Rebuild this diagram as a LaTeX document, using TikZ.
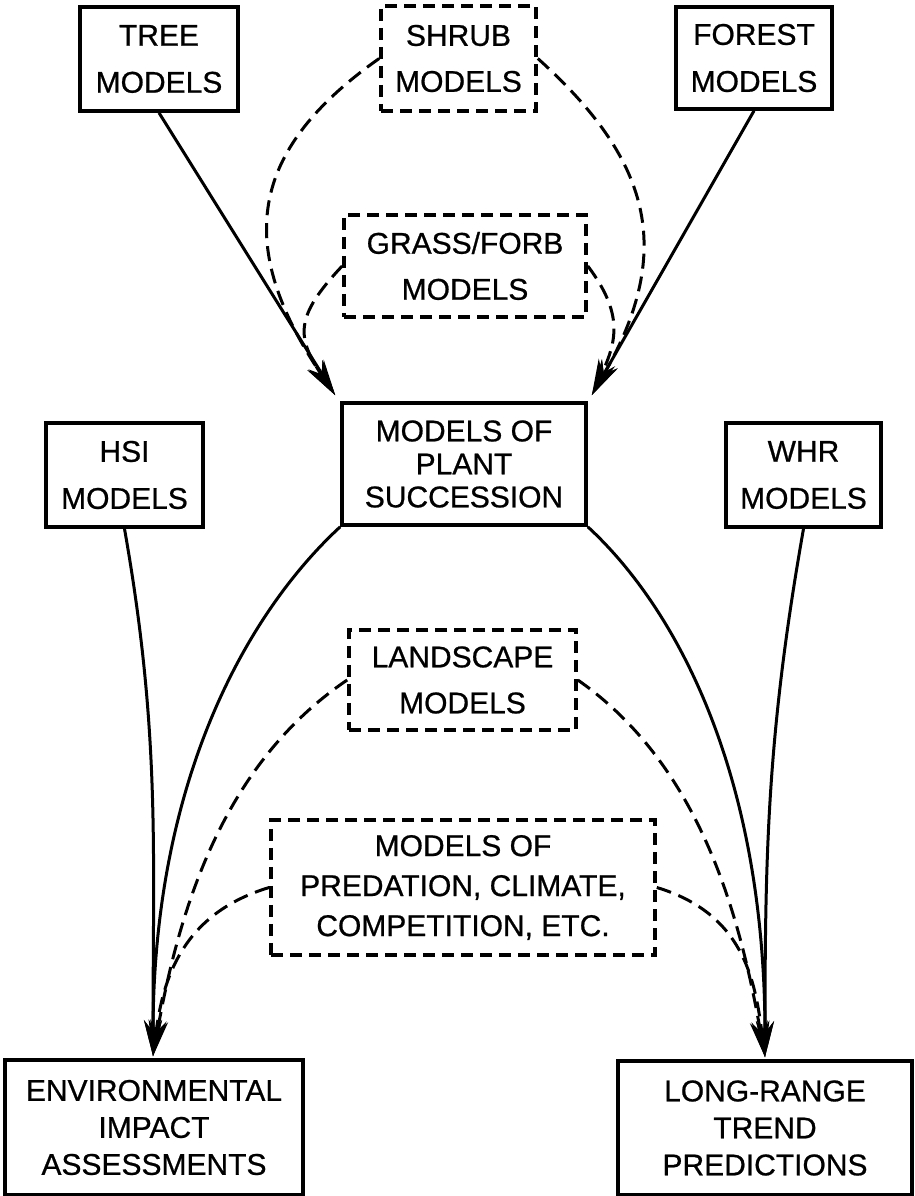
\documentclass[tikz,border=0pt]{standalone}
\usepackage{fontspec}
\setmainfont{Liberation Sans}[FakeBold=0.7]
\usepackage{tikz}
\usetikzlibrary{arrows.meta,calc}
\tikzset{
	succession/.style={
		x=0.5pt, y=0.5pt,
		ar/.style={line width=1.5pt, -{Stealth[length=18pt,width=9pt]}},
		dar/.style={ar, dash pattern=on 7.5pt off 4pt}
		},
	bx/.style={draw, line width=1.8pt, align=center, inner sep=0pt,
		font=\fontsize{15}{#1}\selectfont},
	bx/.default=23.5pt,
	dbx/.style={bx=#1, dash pattern=on 6pt off 3.5pt},
	dbx/.default=23pt,
	bx size/.style args={#1 by #2}{minimum width=#1, minimum height=#2}
}

\begin{document}
\begin{tikzpicture}[succession]
	\useasboundingbox (0,0) rectangle (915,1196);
	% top row
	\node[bx, bx size=79pt by 52pt] (Tree) at (159,1137) {TREE\\MODELS};
	\node[dbx, bx size=77.5pt by 52.5pt] (Shrub) at (458.5,1137.5) {SHRUB\\MODELS};
	\node[bx, bx size=78pt by 51pt] (Forest) at (754,1138) {FOREST\\MODELS};
	\node[dbx, bx size=121pt by 51pt] (Grass) at (465,930) {GRASS/FORB\\MODELS};
	% middle row
	\node[bx=16.5pt, bx size=122pt by 61pt] (Plant) at (464,732) {MODELS OF\\PLANT\\SUCCESSION};
	\node[bx, bx size=78.5pt by 52pt] (HSI) at (124.5,721) {HSI\\MODELS};
	\node[bx, bx size=77.5pt by 52pt] (WHR) at (803.5,721) {WHR\\MODELS};
	\node[dbx, bx size=113.5pt by 50pt] (Land) at (462.5,516) {LANDSCAPE\\MODELS};
	\node[dbx=20pt, bx size=192pt by 67.5pt] (Pred) at (463,308.5) {MODELS OF\\PREDATION, CLIMATE,\\COMPETITION, ETC.};
	% bottom row
	\node[bx=18.5pt, bx size=149pt by 67.5pt] (Env) at (154,68.5) {ENVIRONMENTAL\\IMPACT\\ASSESSMENTS};
	\node[bx=18.5pt, bx size=147pt by 67pt] (Trend) at (765,68) {LONG-RANGE\\TREND\\PREDICTIONS};
	\coordinate (tipL) at ($(Plant.north west)+(-5,6)$);
	\coordinate (tipR) at ($(Plant.north east)+(4,6)$);
	\coordinate (botL) at ($(Env.north)+(-1,2)$);
	\coordinate (botR) at ($(Trend.north)+(0,2)$);
	% into plant succession
	\draw[ar] (Tree.south) -- (tipL);
	\draw[ar] (Forest.south) -- (tipR);
	\draw[dar] (Shrub.west) .. controls +(-139,-98) and +(-95,141) .. (tipL);
	\draw[dar] (Shrub.east) .. controls +(111,-100) and +(85,147) .. (tipR);
	\draw[dar] (Grass.west) .. controls +(-48,-51) and +(-39,58) .. (tipL);
	\draw[dar] (Grass.east) .. controls +(36,-48) and +(25,54) .. (tipR);
	% out to the two uses
	\draw[ar] (HSI.south) to[out=-80,in=90] (botL);
	\draw[ar] (WHR.south) to[out=-100,in=90] (botR);
	\draw[ar] (Plant.south west) .. controls +(-92,-85) and +(0,278) .. (botL);
	\draw[ar] (Plant.south east) .. controls +(92,-85) and +(0,278) .. (botR);
	\draw[dar] (Land.west) .. controls +(-124,-84) and +(26,148) .. (botL);
	\draw[dar] (Land.east) .. controls +(120,-84) and +(-26,148) .. (botR);
	\draw[dar] (Pred.west) .. controls +(-86,-26) and +(10,79) .. (botL);
	\draw[dar] (Pred.east) .. controls +(86,-26) and +(-10,79) .. (botR);
\end{tikzpicture}
\end{document}
